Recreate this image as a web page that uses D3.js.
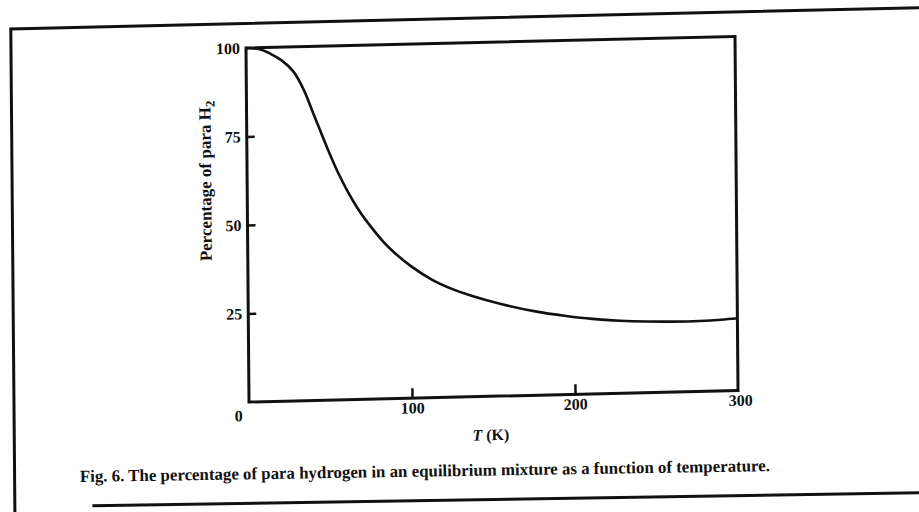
<!DOCTYPE html>
<html>
<head>
<meta charset="utf-8">
<script src="https://cdn.jsdelivr.net/npm/d3@7"></script>
<style>
  html, body { margin: 0; padding: 0; background: #fff; }
  svg { display: block; }
  text { font-family: "Liberation Serif", "DejaVu Serif", serif; fill: #111; }
</style>
</head>
<body>
<svg id="chart" width="919" height="512"></svg>
<script>
// Temperature (K) and percentage of para H2
const temperature = [0, 8, 15, 22, 29, 35, 41, 49, 56, 62, 69, 76, 83, 90, 100, 113, 125, 137, 155, 176, 195, 211, 228, 244, 260, 277, 290, 300];
const paraPercent = [100, 99.6, 98.2, 96.2, 93, 88, 81, 71.6, 64, 58.5, 53, 48.5, 44.5, 41.2, 37.3, 33.3, 30.6, 28.5, 26, 23.7, 22.2, 21.2, 20.5, 20.1, 19.9, 19.9, 20.1, 20.4];
const xTickValues = [0, 100, 200, 300];
const xTickLabels = ["0", "100", "200", "300"];
const yTickValues = [25, 50, 75, 100];
const yTickLabels = ["25", "50", "75", "100"];
const xTitle = "T";
const xUnit = " (K)";
const yTitle = "Percentage of para H";
const caption = "Fig. 6. The percentage of para hydrogen in an equilibrium mixture as a function of temperature.";

const svg = d3.select("#chart");
const W = 489, H = 354;

// scanned page is slightly skewed
const g = svg.append("g").attr("transform", "matrix(1,-0.0235,0.0085,1,246,48)");

const x = d3.scaleLinear().domain([0, 300]).range([0, W]);
const y = d3.scaleLinear().domain([0, 100]).range([H, 0]);

// outer figure frame (top and left edges)
g.append("path")
  .attr("d", `M${-235},${470} L${-235},${-24.5} L${720},${-24.5}`)
  .attr("fill", "none").attr("stroke", "#111").attr("stroke-width", 3);

// plot frame
g.append("rect").attr("x", 0).attr("y", 0).attr("width", W).attr("height", H)
  .attr("fill", "none").attr("stroke", "#111").attr("stroke-width", 3);

// y axis (ticks pointing inward)
const yAxis = d3.axisLeft(y).tickValues(yTickValues)
  .tickFormat((d, i) => yTickLabels[i]).tickSize(-8).tickPadding(6);
const yg = g.append("g").call(yAxis);
yg.select(".domain").remove();
yg.selectAll(".tick line").attr("stroke", "#111").attr("stroke-width", 2.5)
  .filter(d => d === 100).remove();
yg.selectAll(".tick text").attr("font-size", 16).attr("font-weight", "bold")
  .attr("font-family", "Liberation Serif").attr("fill", "#111");

// x axis (ticks pointing inward)
const xAxis = d3.axisBottom(x).tickValues(xTickValues)
  .tickFormat((d, i) => xTickLabels[i]).tickSize(-10).tickPadding(4);
const xg = g.append("g").attr("transform", `translate(0,${H})`).call(xAxis);
xg.select(".domain").remove();
xg.selectAll(".tick line").attr("stroke", "#111").attr("stroke-width", 2.5)
  .filter(d => d === 0 || d === 300).remove();
xg.selectAll(".tick text").attr("font-size", 16).attr("font-weight", "bold")
  .attr("font-family", "Liberation Serif").attr("fill", "#111")
  .attr("dx", d => d === 0 ? -11 : (d === 300 ? 2 : 0))
  .attr("dy", d => d === 0 ? "0.95em" : "0.71em");

// axis titles
const xt = g.append("text").attr("x", W / 2 - 3).attr("y", H + 44)
  .attr("text-anchor", "middle").attr("font-size", 16).attr("font-weight", "bold");
xt.append("tspan").attr("font-style", "italic").text(xTitle);
xt.append("tspan").text(xUnit);

const yt = g.append("text")
  .attr("transform", `translate(-36,${132}) rotate(-90)`)
  .attr("text-anchor", "middle").attr("font-size", 17).attr("font-weight", "bold");
yt.append("tspan").text(yTitle);
yt.append("tspan").attr("font-size", 13).attr("dy", 4).text("2");

// data curve
const line = d3.line().x((d, i) => x(temperature[i])).y(d => y(d)).curve(d3.curveCatmullRom.alpha(0.5));
g.append("path").datum(paraPercent).attr("d", line)
  .attr("fill", "none").attr("stroke", "#111").attr("stroke-width", 2.6);

// caption and rule beneath it
const cg = svg.append("g").attr("transform", "rotate(-0.9, 460, 480)");
cg.append("text").attr("x", 80).attr("y", 476).attr("font-size", 17).attr("font-weight", "bold")
  .attr("textLength", 690).attr("lengthAdjust", "spacingAndGlyphs").text(caption);
cg.append("line").attr("x1", 92).attr("y1", 500).attr("x2", 940).attr("y2", 500)
  .attr("stroke", "#111").attr("stroke-width", 3);
</script>
</body>
</html>
